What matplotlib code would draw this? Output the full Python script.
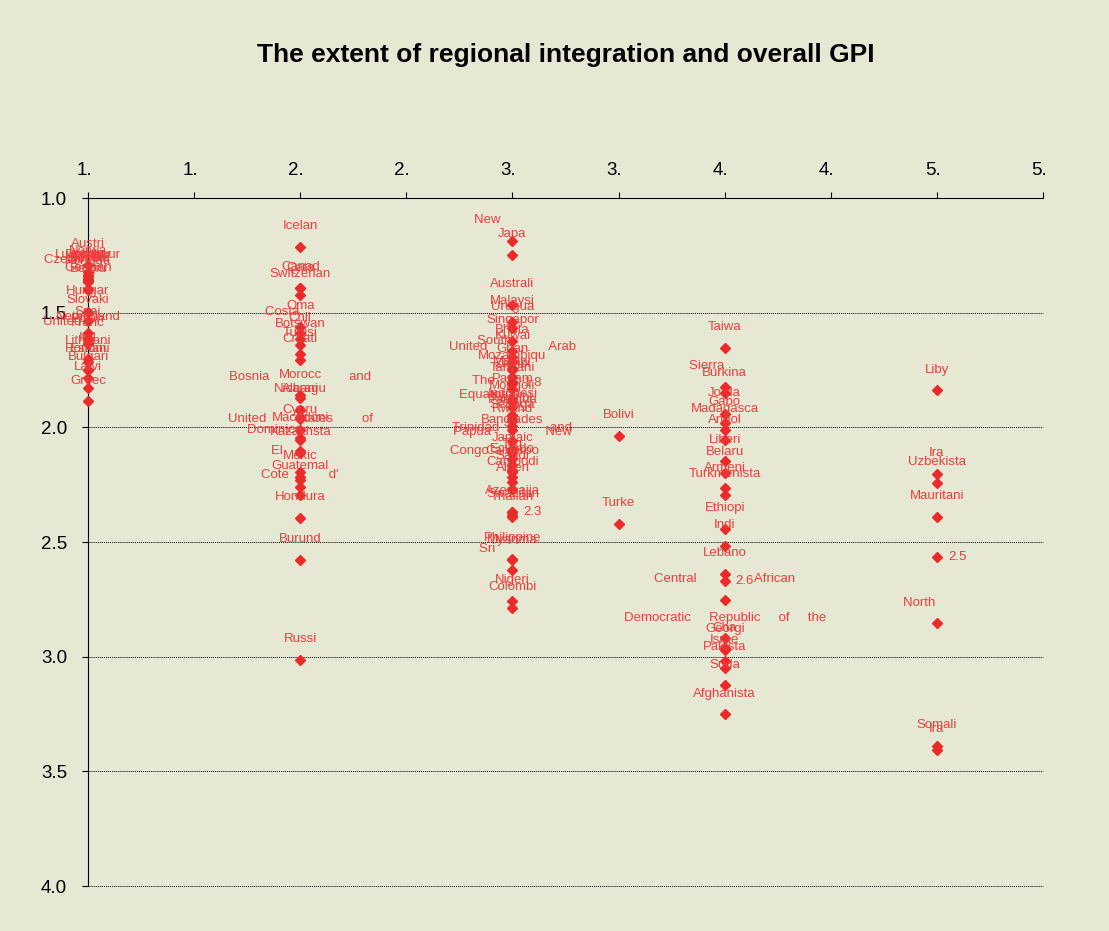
import matplotlib.pyplot as plt
from matplotlib.transforms import ScaledTranslation

plt.rcParams['font.family'] = ['Liberation Sans', 'DejaVu Sans']

# regional integration score 1 (column at x = 1)
eu_names = ['Austri', 'Norwa', 'Irelan', 'Denmar', 'Luxembour', 'Finlan', 'Swede',
            'Sloveni', 'Czech              ', 'Portuga', 'German', 'Belgiu', 'Hungar',
            'Slovaki', 'Spai', 'Netherland', 'Polan', 'United              ', 'Franc',
            'Ital', 'Lithuani', 'Romani', 'Estoni', 'Bulgari', 'Latvi', 'Greec']
eu_gpi = [1.290, 1.322, 1.337, 1.341, 1.341, 1.352, 1.354, 1.358, 1.360, 1.366,
          1.398, 1.400, 1.495, 1.536, 1.588, 1.610, 1.618, 1.631, 1.636, 1.701,
          1.713, 1.749, 1.751, 1.785, 1.827, 1.887]

# score 2
s2_names = ['Icelan', 'Canad', 'Qata', 'Switzerlan', 'Oma', 'Costa          ', 'Chil',
            'Botswan', 'Tunisi', 'Croati', 'Bosnia                      and', 'Morocc',
            'Nicaragu', 'Albani', '', '', 'Cypru', 'United        States        of',
            'Macedoni', 'Dominica              ', 'Kazakhsta', 'El             ',
            'Mexic', '', 'Guatemal', 'Cote           d\'', 'Hondura', 'Burund', 'Russi']
s2_gpi = [1.212, 1.392, 1.394, 1.421, 1.561, 1.590, 1.616, 1.641, 1.678, 1.707,
          1.873, 1.861, 1.924, 1.925, 1.955, 1.965, 2.013, 2.056, 2.048, 2.104,
          2.113, 2.195, 2.216, 2.230, 2.258, 2.297, 2.395, 2.577, 3.013]

# score 3
s3_names = ['New              ', 'Japa', 'Australi', 'Malaysi', 'Urugua', 'Singapor',
            'Bhuta', 'Kuwai', 'South          ', 'United                 Arab',
            'Mozambiqu', 'Ghan', 'Malaw', 'Tanzani', 'Zambi', 'Panam',
            'The                ', 'Mongoli', 'Equatorial             ', 'Indonesi',
            'Namibi', 'Senega', 'Rwand', 'Paragua', 'Banglades',
            'Trinidad              and', 'Papua               New', 'Jamaic', 'Tog',
            'Congo                        ', 'Ecuado', 'Cameroo', 'Saudi', 'Cambodi',
            'Algeri', 'Azerbaija', 'Swazilan', 'Thailan', 'Philippine', 'Myanma',
            'Sri              ', 'Nigeri', 'Colombi']
s3_gpi = [1.188, 1.247, 1.467, 1.539, 1.568, 1.624, 1.665, 1.693, 1.715, 1.739,
          1.779, 1.750, 1.804, 1.832, 1.813, 1.878, 1.890, 1.910, 1.950, 1.946,
          1.964, 1.995, 2.012, 1.973, 2.058, 2.095, 2.110, 2.138, 2.164, 2.192,
          2.185, 2.195, 2.216, 2.240, 2.270, 2.367, 2.380, 2.393, 2.574, 2.580,
          2.621, 2.756, 2.787]

# score 3.5
s35_names = ['Bolivi', 'Turke']
s35_gpi = [2.037, 2.420]

# score 4
s4_names = ['Taiwa', 'Sierra          ', 'Burkina', 'Jorda', 'Gabo', 'Madagasca', 'Angol',
            'Liberi', 'Belaru', 'Armeni', 'Turkmenista', 'Ethiopi', 'Indi', 'Lebano',
            'Central                African',
            'Democratic     Republic     of     the', 'Cha', 'Georgi', 'Israe',
            'Pakista', 'Suda', 'Afghanista']
s4_gpi = [1.652, 1.822, 1.852, 1.940, 1.981, 2.010, 2.057, 2.148, 2.200, 2.266,
          2.295, 2.444, 2.516, 2.639, 2.753, 2.920, 2.964, 2.970, 3.019, 3.050,
          3.125, 3.252]

# score 5
s5_names = ['Liby', 'Ira', 'Uzbekista', 'Mauritani', 'North          ', 'Somali', 'Ira']
s5_gpi = [1.839, 2.202, 2.242, 2.389, 2.855, 3.390, 3.406]

# points whose label shows the value instead of the name
val_score = [3, 3, 4, 5]
val_gpi = [1.807, 2.370, 2.670, 2.566]
val_text = ['1.8', '2.3', '2.6', '2.5']

x_ticks = [1.0, 1.5, 2.0, 2.5, 3.0, 3.5, 4.0, 4.5, 5.0, 5.5]
x_ticklabels = ['1.', '1.', '2.', '2.', '3.', '3.', '4.', '4.', '5.', '5.']
y_ticks = [1.0, 1.5, 2.0, 2.5, 3.0, 3.5, 4.0]
y_ticklabels = ['1.0', '1.5', '2.0', '2.5', '3.0', '3.5', '4.0']

groups = [(1.0, eu_names, eu_gpi), (2.0, s2_names, s2_gpi), (3.0, s3_names, s3_gpi),
          (3.5, s35_names, s35_gpi), (4.0, s4_names, s4_gpi), (5.0, s5_names, s5_gpi)]

bg = '#E6E8D3'
red = '#EC2A2A'
txt_red = '#EE3C3C'

fig = plt.figure(figsize=(11.09, 9.31), dpi=100, facecolor=bg)
ax = fig.add_axes([0.0794, 0.0483, 0.8611, 0.739])
ax.set_facecolor(bg)

for score, names, gpi in groups:
    ax.plot([score] * len(gpi), gpi, 'D', color=red, markersize=5, clip_on=False, zorder=3)
    for n, g in zip(names, gpi):
        if n:
            ax.annotate(n, (score, g), xytext=(0, 15), textcoords='offset points',
                        ha='center', va='center', fontsize=9.5, color=txt_red)

ax.plot(val_score, val_gpi, 'D', color=red, markersize=5, zorder=3)
for s, g, t in zip(val_score, val_gpi, val_text):
    ax.annotate(t, (s, g), xytext=(8, 0), textcoords='offset points',
                ha='left', va='center', fontsize=9.5, color=txt_red)

ax.set_xlim(1.0, 5.5)
ax.set_ylim(4.0, 1.0)
ax.xaxis.tick_top()
ax.set_xticks(x_ticks)
ax.set_xticklabels(x_ticklabels)
ax.set_yticks(y_ticks)
ax.set_yticklabels(y_ticklabels)
ax.tick_params(axis='x', direction='out', length=4, width=0.8, labelsize=13.5, pad=10)
ax.tick_params(axis='y', direction='out', length=4, width=0.8, labelsize=13.5, pad=11)

# labels sit a little left of their ticks, like the truncated "1.0" -> "1."
shift = ScaledTranslation(-4 / 100, 0, fig.dpi_scale_trans)
for lab in ax.get_xticklabels():
    lab.set_transform(lab.get_transform() + shift)

for s in ['right', 'bottom']:
    ax.spines[s].set_visible(False)
for s in ['top', 'left']:
    ax.spines[s].set_linewidth(0.8)

for y in y_ticks[1:]:
    ax.axhline(y, color='black', linestyle=(0, (1, 1)), linewidth=0.7, zorder=1,
               clip_on=False)

fig.text(566 / 1109, 1 - 55 / 931, 'The extent of regional integration and overall GPI',
         ha='center', va='center', fontsize=19, fontweight='bold')

fig.savefig('out.png', dpi=100, facecolor=bg)
